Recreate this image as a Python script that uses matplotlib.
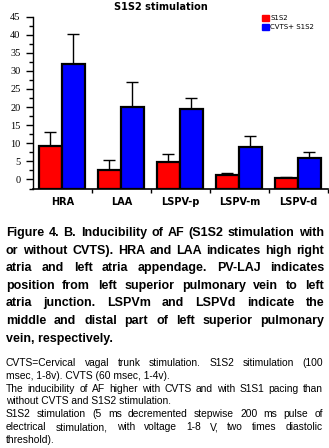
import matplotlib
matplotlib.use("Agg")
import matplotlib.pyplot as plt
from matplotlib.patches import Patch
from matplotlib.ticker import MultipleLocator

categories = ["HRA", "LAA", "LSPV-p", "LSPV-m", "LSPV-d"]
s1s2 = [9.3, 2.5, 4.9, 1.2, 0.3]
s1s2_err = [3.7, 2.8, 2.2, 0.7, 0.3]
cvts = [31.8, 19.9, 19.4, 8.9, 5.8]
cvts_err = [8.3, 6.9, 3.2, 3.0, 1.8]

caption = [
    "Figure 4. B. Inducibility of AF (S1S2 stimulation with",
    "or without CVTS). HRA and LAA indicates high right",
    "atria and left atria appendage. PV-LAJ indicates",
    "position from left superior pulmonary vein to left",
    "atria junction. LSPVm and LSPVd indicate the",
    "middle and distal part of left superior pulmonary",
    "vein, respectively.",
]
caption_just = [True, True, True, True, True, True, False]

notes = [
    "CVTS=Cervical vagal trunk stimulation. S1S2 sitimulation (100",
    "msec, 1-8v). CVTS (60 msec, 1-4v).",
    "The inducibility of AF higher with CVTS and with S1S1 pacing than",
    "without CVTS and S1S2 stimulation.",
    "S1S2 stimulation (5 ms decremented stepwise 200 ms pulse of",
    "electrical stimulation, with voltage 1-8 V, two times diastolic",
    "threshold).",
]
notes_just = [True, False, True, False, True, True, False]

W, H = 329, 448
fig = plt.figure(figsize=(W / 100, H / 100), dpi=100)
ax = fig.add_axes([33 / W, 1 - 188.5 / H, 295 / W, 172 / H])

floor = -2.5
x = list(range(len(categories)))
bw = 0.39
xr = [i - 0.205 for i in x]
xb = [i + 0.185 for i in x]

ax.bar(xr, [v - floor for v in s1s2], bw, bottom=floor, color="#ff0000",
       edgecolor="black", linewidth=1.6, zorder=3)
ax.bar(xb, [v - floor for v in cvts], bw, bottom=floor, color="#0000ff",
       edgecolor="black", linewidth=1.6, zorder=3)
ax.errorbar(xr, s1s2, yerr=[[0] * 5, s1s2_err], fmt="none", ecolor="black",
            elinewidth=1, capsize=4, capthick=1, zorder=2)
ax.errorbar(xb, cvts, yerr=[[0] * 5, cvts_err], fmt="none", ecolor="black",
            elinewidth=1, capsize=4, capthick=1, zorder=2)

ax.set_xlim(-0.5, 4.5)
ax.set_ylim(floor, 45)
ax.spines["top"].set_visible(False)
ax.spines["right"].set_visible(False)
ax.spines["left"].set_linewidth(1)
ax.spines["bottom"].set_linewidth(1.2)

ax.yaxis.set_major_locator(MultipleLocator(5))
ax.yaxis.set_minor_locator(MultipleLocator(2.5))
ax.set_yticks(range(0, 46, 5))
ax.set_yticklabels([str(v) for v in range(0, 46, 5)],
                   family="Liberation Serif", fontsize=7.5)
ax.tick_params(axis="y", which="major", length=5, width=1, pad=4)
ax.tick_params(axis="y", which="minor", length=3, width=1)

ax.set_xticks([i + 0.5 for i in x])
ax.set_xticklabels([])
ax.set_xticks(x, minor=True)
ax.set_xticklabels(categories, minor=True, fontweight="bold", fontsize=7)
ax.tick_params(axis="x", which="major", length=3, width=1, direction="out")
ax.tick_params(axis="x", which="minor", length=0, pad=6)

ax.legend(handles=[Patch(color="#ff0000", label="S1S2"),
                   Patch(color="#0000ff", label="CVTS+ S1S2")],
          loc="upper left", bbox_to_anchor=(262 / W, 1 - 15 / H),
          bbox_transform=fig.transFigure, frameon=False, fontsize=5,
          handlelength=1.0, handleheight=1.0, handletextpad=0.2,
          labelspacing=0.3, borderpad=0, borderaxespad=0)

fig.text(161 / W, 1 - 7 / H, "S1S2 stimulation", ha="center", va="center",
         fontweight="bold", fontsize=7)

renderer = fig.canvas.get_renderer()


def draw_block(lines, just, x0, x1, y0, dy, **kw):
    for i, (line, j) in enumerate(zip(lines, just)):
        y = 1 - (y0 + i * dy) / H
        words = line.split()
        if not j:
            fig.text(x0 / W, y, line, va="center", ha="left", **kw)
            continue
        texts = [fig.text(0, y, w, va="center", ha="left", **kw) for w in words]
        widths = [t.get_window_extent(renderer).width for t in texts]
        gap = max((x1 - x0 - sum(widths)) / (len(words) - 1), 1.5)
        pos = x0
        for t, w in zip(texts, widths):
            t.set_x(pos / W)
            pos += w + gap


draw_block(caption, caption_just, 6, 324, 233, 17.6,
           family="Liberation Sans", fontweight="bold", fontsize=9)
draw_block(notes, notes_just, 6, 323, 363, 12.8,
           family="Liberation Sans", fontsize=7.4)

fig.savefig("out.png", dpi=100)
